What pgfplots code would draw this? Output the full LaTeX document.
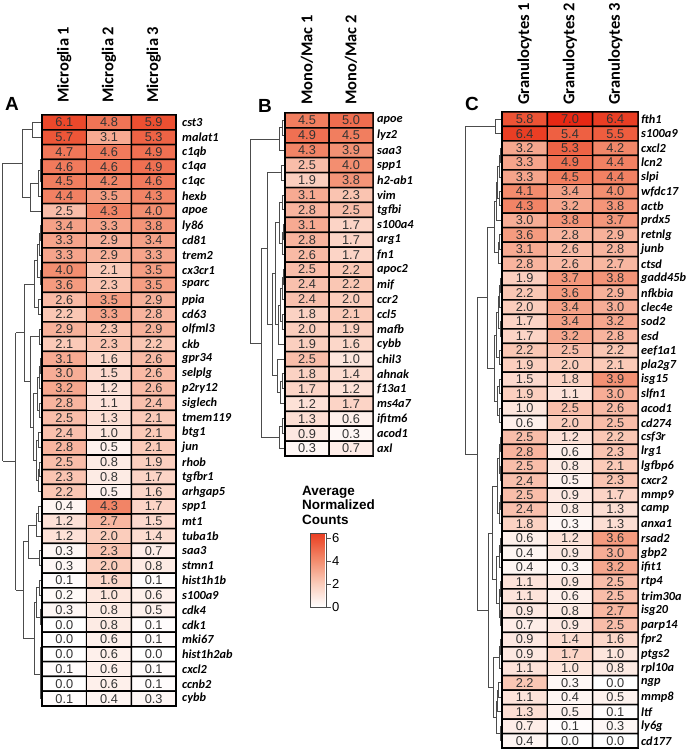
\documentclass[border=0pt]{standalone}
\usepackage{fontspec}
\setmainfont{Liberation Sans}
\newfontfamily\carlito{Carlito}
\usepackage{pgfplots}
\usepackage{pgfplotstable}
\pgfplotsset{compat=1.18}

\newcommand\numfont{\fontsize{12.8}{13}\selectfont}
\newcommand\genefont{\carlito\bfseries\itshape\fontsize{12.3}{12.3}\selectfont}
\newcommand\headfont{\carlito\bfseries\fontsize{16.5}{16.5}\selectfont}

\pgfplotsset{
  colormap={hm}{rgb255(0cm)=(255,255,255) rgb255(2cm)=(251,205,188) rgb255(4cm)=(243,142,112) rgb255(6cm)=(236,76,46) rgb255(7cm)=(232,40,20)},
  colormap={hmbar}{rgb255(0cm)=(255,255,255) rgb255(2cm)=(251,205,188) rgb255(4cm)=(243,142,112) rgb255(6cm)=(236,76,46) rgb255(6.4cm)=(234,62,36)},
  hmaxis/.style={scale only axis, anchor=south west, colormap name=hm,
    point meta min=0, point meta max=7, enlargelimits=false,
    axis line style={line width=1.8pt}, tick style={draw=none}, major tick length=0pt,
    xticklabel pos=upper, yticklabel pos=right,
    xticklabel style={rotate=90, anchor=west, inner sep=0pt, font=\headfont},
    yticklabel style={anchor=west, inner sep=0pt, font=\genefont}},
  hmcell/.style={matrix plot*, draw=black, line width=1.5pt, point meta=explicit,
    nodes near coords={\pgfmathprintnumber[fixed,fixed zerofill,precision=1,assume math mode=true]{\pgfplotspointmeta}},
    every node near coord/.append style={anchor=center, font=\numfont, text=black!80}},
  dendaxis/.style={scale only axis, anchor=south west, hide axis, x dir=reverse, y dir=reverse, xmin=0, clip=false},
  dendline/.style={draw=none, mark=none, error bars/.cd, error mark=none,
    error bar style={draw=black!70, line width=1pt}},
}

% dendrogram links: child a (row, depth), child b (row, depth), merge depth (px)
\pgfplotstableread{
ya ha yb hb H
0 0 1 0 10
2 0 3 0 1
2.5 1 4 0 2
3.25 2 5 0 4
4.125 4 6 0 12
0.5 10 5.06 12 20
7 0 8 0 2
7.5 2 9 0 3
10 0 11 0 2
8.25 3 10.5 2 5
12 0 13 0 4
9.375 5 12.5 4 8
14 0 15 0 3
16 0 17 0 2
16.5 2 18 0 3
19 0 20 0 3
17.25 3 19.5 3 5
21 0 22 0 4
23 0 24 0 3
23.5 3 25 0 4
21.5 4 24.25 4 6
18.375 5 22.875 6 9
14.5 3 20.625 9 12
10.94 8 17.56 12 18
26 0 27 0 4
26.5 4 28 0 6
29 0 30 0 3
27.25 6 29.5 3 14
31 0 32 0 3
33 0 34 0 2
31.5 3 33.5 2 6
35 0 36 0 1
35.5 1 37 0 1.5
38 0 39 0 1.5
36.25 1.5 38.5 1.5 2
32.5 6 37.375 2 8
28.375 14 34.94 8 19
14.25 18 31.66 19 26
2.78 20 22.95 26 39
}\dendA

\pgfplotstableread{
ya ha yb hb H
0 0 1 0 3
0.5 3 2 0 6
3 0 4 0 4
5 0 6 0 3
7 0 8 0 2
7.5 2 9 0 3
5.5 3 8.25 3 6
10 0 11 0 2
10.5 2 12 0 3
13 0 14 0 3
11.25 3 13.5 3 5
12.375 5 15 0 7
6.875 6 13.69 7 10
17 0 18 0 3
17.5 3 19 0 5
16 0 18.25 5 8
10.28 10 17.125 8 13
3.5 4 13.7 13 18
20 0 21 0 3
20.5 3 22 0 6
8.6 18 21.25 6 24
1.25 6 14.93 24 35
}\dendB

\pgfplotstableread{
ya ha yb hb H
0 0 1 0 7
2 0 3 0 2
2.5 2 4 0 3
5 0 6 0 3
3.25 3 5.5 3 5
4.375 5 7 0 6
8 0 9 0 3
8.5 3 10 0 4
5.69 6 9.25 4 8
11 0 12 0 2
11.5 2 13 0 3
14 0 15 0 2
12.25 3 14.5 2 4
16 0 17 0 3
13.375 4 16.5 3 6
18 0 19 0 3
20 0 21 0 3
18.5 3 20.5 3 5
14.94 6 19.5 5 8
7.47 8 17.22 8 15
22 0 23 0 2
24 0 25 0 2
22.5 2 24.5 2 3
26 0 27 0 2
26.5 2 28 0 3
23.5 3 27.25 3 5
29 0 30 0 2
29.5 2 31 0 3
32 0 33 0 2
34 0 35 0 2
32.5 2 34.5 2 3
30.25 3 33.5 3 6
25.375 5 31.875 6 10
36 0 37 0 2
36.5 2 38 0 3
39 0 40 0 4
39.5 4 41 0 5
42 0 43 0 2
40.25 5 42.5 2 6
37.25 3 41.375 6 9
28.63 10 39.31 9 14
12.35 15 33.97 14 25
0.5 7 23.16 25 37
}\dendC

\begin{document}
\begin{tikzpicture}
\path[use as bounding box] (0pt,0pt) rectangle (687pt,750pt);

% ---------------- A: Microglia ----------------
\begin{axis}[dendaxis, at={(3pt,44pt)}, width=39pt, height=591pt, xmax=39, ymin=-0.5, ymax=39.5]
\addplot[dendline, x dir=plus, x explicit] table[x=ha, y=ya, x error expr={\thisrow{H}-\thisrow{ha}}] {\dendA};
\addplot[dendline, y dir=plus, y explicit] table[x=H, y=ya, y error expr={\thisrow{yb}-\thisrow{ya}}] {\dendA};
\addplot[dendline, x dir=plus, x explicit] table[x=hb, y=yb, x error expr={\thisrow{H}-\thisrow{hb}}] {\dendA};
\end{axis}
\begin{axis}[hmaxis, at={(42pt,44pt)}, width=134pt, height=591pt,
  xmin=-0.5, xmax=2.5, ymin=-39.5, ymax=0.5,
  xticklabel shift=12pt, yticklabel shift=6pt,
  xtick={0,1,2}, xticklabels={Microglia 1,Microglia 2,Microglia 3},
  ytick={0,-1,...,-39},
  yticklabels={cst3,malat1,c1qb,c1qa,c1qc,hexb,apoe,ly86,cd81,trem2,cx3cr1,sparc,ppia,cd63,olfml3,ckb,gpr34,selplg,p2ry12,siglech,tmem119,btg1,jun,rhob,tgfbr1,arhgap5,spp1,mt1,tuba1b,saa3,stmn1,hist1h1b,s100a9,cdk4,cdk1,mki67,hist1h2ab,cxcl2,ccnb2,cybb}]
\addplot[hmcell, mesh/cols=3] table[row sep=\\, meta=val, x expr={\coordindex-3*floor((\coordindex+0.5)/3)}, y expr={-floor((\coordindex+0.5)/3)}] {
val\\
6.1\\4.8\\5.9\\
5.7\\3.1\\5.3\\
4.7\\4.6\\4.9\\
4.6\\4.6\\4.9\\
4.5\\4.2\\4.6\\
4.4\\3.5\\4.3\\
2.5\\4.3\\4.0\\
3.4\\3.3\\3.8\\
3.3\\2.9\\3.4\\
3.3\\2.9\\3.3\\
4.0\\2.1\\3.5\\
3.6\\2.3\\3.5\\
2.6\\3.5\\2.9\\
2.2\\3.3\\2.8\\
2.9\\2.3\\2.9\\
2.1\\2.3\\2.2\\
3.1\\1.6\\2.6\\
3.0\\1.5\\2.6\\
3.2\\1.2\\2.6\\
2.8\\1.1\\2.4\\
2.5\\1.3\\2.1\\
2.4\\1.0\\2.1\\
2.8\\0.5\\2.1\\
2.5\\0.8\\1.9\\
2.3\\0.8\\1.7\\
2.2\\0.5\\1.6\\
0.4\\4.3\\1.7\\
1.2\\2.7\\1.5\\
1.2\\2.0\\1.4\\
0.3\\2.3\\0.7\\
0.3\\2.0\\0.8\\
0.1\\1.6\\0.1\\
0.2\\1.0\\0.6\\
0.3\\0.8\\0.5\\
0.0\\0.8\\0.1\\
0.0\\0.6\\0.1\\
0.0\\0.6\\0.0\\
0.1\\0.6\\0.1\\
0.0\\0.6\\0.1\\
0.1\\0.4\\0.3\\
};
\end{axis}

% ---------------- B: Mono/Mac ----------------
\begin{axis}[dendaxis, at={(250pt,294pt)}, width=35pt, height=343pt, xmax=35, ymin=-0.5, ymax=22.5]
\addplot[dendline, x dir=plus, x explicit] table[x=ha, y=ya, x error expr={\thisrow{H}-\thisrow{ha}}] {\dendB};
\addplot[dendline, y dir=plus, y explicit] table[x=H, y=ya, y error expr={\thisrow{yb}-\thisrow{ya}}] {\dendB};
\addplot[dendline, x dir=plus, x explicit] table[x=hb, y=yb, x error expr={\thisrow{H}-\thisrow{hb}}] {\dendB};
\end{axis}
\begin{axis}[hmaxis, at={(285pt,294pt)}, width=88pt, height=343pt,
  xmin=-0.5, xmax=1.5, ymin=-22.5, ymax=0.5,
  xticklabel shift=8pt, yticklabel shift=4pt,
  xtick={0,1}, xticklabels={Mono/Mac 1,Mono/Mac 2},
  ytick={0,-1,...,-22},
  yticklabels={apoe,lyz2,saa3,spp1,h2-ab1,vim,tgfbi,s100a4,arg1,fn1,apoc2,mif,ccr2,ccl5,mafb,cybb,chil3,ahnak,f13a1,ms4a7,ifitm6,acod1,axl}]
\addplot[hmcell, mesh/cols=2] table[row sep=\\, meta=val, x expr={\coordindex-2*floor((\coordindex+0.5)/2)}, y expr={-floor((\coordindex+0.5)/2)}] {
val\\
4.5\\5.0\\
4.9\\4.5\\
4.3\\3.9\\
2.5\\4.0\\
1.9\\3.8\\
3.1\\2.3\\
2.8\\2.5\\
3.1\\1.7\\
2.8\\1.7\\
2.6\\1.7\\
2.5\\2.2\\
2.4\\2.2\\
2.4\\2.0\\
1.8\\2.1\\
2.0\\1.9\\
1.9\\1.6\\
2.5\\1.0\\
1.8\\1.4\\
1.7\\1.2\\
1.2\\1.7\\
1.3\\0.6\\
0.9\\0.3\\
0.3\\0.7\\
};
\end{axis}

% ---------------- colour key ----------------
\node[anchor=north west, align=left, inner sep=0pt, font=\bfseries\fontsize{13.5}{14.5}\selectfont] at (302pt,264pt) {Average\\Normalized\\Counts};
\begin{axis}[at={(302pt,143pt)}, anchor=south west, scale only axis, width=16pt, height=73.6pt,
  xmin=0, xmax=1, ymin=0, ymax=6.4, axis line style={draw=none}, xtick=\empty, ytick=\empty,
  colormap name=hmbar, point meta min=0, point meta max=6.4, colorbar,
  colorbar style={at={(parent axis.south west)}, anchor=south west, scale only axis,
    width=16pt, height=73.6pt, ytick={0,2,4,6}, ytick pos=right, yticklabel pos=right,
    tick align=outside, major tick length=4pt, tick style={draw=black!70, line width=0.8pt},
    axis line style={draw=black!70, line width=0.7pt},
    yticklabel style={font=\fontsize{13}{13}\selectfont, inner sep=1.5pt, /pgf/number format/assume math mode=true}}]
\addplot[draw=none] coordinates {(0,0)};
\end{axis}

% ---------------- C: Granulocytes ----------------
\begin{axis}[dendaxis, at={(464pt,2pt)}, width=38pt, height=636pt, xmax=38, ymin=-0.5, ymax=43.5]
\addplot[dendline, x dir=plus, x explicit] table[x=ha, y=ya, x error expr={\thisrow{H}-\thisrow{ha}}] {\dendC};
\addplot[dendline, y dir=plus, y explicit] table[x=H, y=ya, y error expr={\thisrow{yb}-\thisrow{ya}}] {\dendC};
\addplot[dendline, x dir=plus, x explicit] table[x=hb, y=yb, x error expr={\thisrow{H}-\thisrow{hb}}] {\dendC};
\end{axis}
\begin{axis}[hmaxis, at={(502pt,2pt)}, width=136pt, height=636pt,
  xmin=-0.5, xmax=2.5, ymin=-43.5, ymax=0.5,
  xticklabel shift=7pt, yticklabel shift=3pt,
  xtick={0,1,2}, xticklabels={Granulocytes 1,Granulocytes 2,Granulocytes 3},
  ytick={0,-1,...,-43},
  yticklabels={fth1,s100a9,cxcl2,lcn2,slpi,wfdc17,actb,prdx5,retnlg,junb,ctsd,gadd45b,nfkbia,clec4e,sod2,esd,eef1a1,pla2g7,isg15,slfn1,acod1,cd274,csf3r,lrg1,lgfbp6,cxcr2,mmp9,camp,anxa1,rsad2,gbp2,ifit1,rtp4,trim30a,isg20,parp14,fpr2,ptgs2,rpl10a,ngp,mmp8,ltf,ly6g,cd177}]
\addplot[hmcell, mesh/cols=3] table[row sep=\\, meta=val, x expr={\coordindex-3*floor((\coordindex+0.5)/3)}, y expr={-floor((\coordindex+0.5)/3)}] {
val\\
5.8\\7.0\\6.4\\
6.4\\5.4\\5.5\\
3.2\\5.3\\4.2\\
3.3\\4.9\\4.4\\
3.3\\4.5\\4.4\\
4.1\\3.4\\4.0\\
4.3\\3.2\\3.8\\
3.0\\3.8\\3.7\\
3.6\\2.8\\2.9\\
3.1\\2.6\\2.8\\
2.8\\2.6\\2.7\\
1.9\\3.7\\3.8\\
2.2\\3.6\\2.9\\
2.0\\3.4\\3.0\\
1.7\\3.4\\3.2\\
1.7\\3.2\\2.8\\
2.2\\2.5\\2.2\\
1.9\\2.0\\2.1\\
1.5\\1.8\\3.9\\
1.9\\1.1\\3.0\\
1.0\\2.5\\2.6\\
0.6\\2.0\\2.5\\
2.5\\1.2\\2.2\\
2.8\\0.6\\2.3\\
2.5\\0.8\\2.1\\
2.4\\0.5\\2.3\\
2.5\\0.9\\1.7\\
2.4\\0.8\\1.3\\
1.8\\0.3\\1.3\\
0.6\\1.2\\3.6\\
0.4\\0.9\\3.0\\
0.4\\0.3\\3.2\\
1.1\\0.9\\2.5\\
1.1\\0.6\\2.5\\
0.9\\0.8\\2.7\\
0.7\\0.9\\2.5\\
0.9\\1.4\\1.6\\
0.9\\1.7\\1.0\\
1.1\\1.0\\0.8\\
2.2\\0.3\\0.0\\
1.1\\0.4\\0.5\\
1.3\\0.5\\0.1\\
0.7\\0.1\\0.3\\
0.4\\0.0\\0.0\\
};
\end{axis}

% panel letters
\node[font=\bfseries\fontsize{19}{19}\selectfont] at (12pt,646pt) {A};
\node[font=\bfseries\fontsize{19}{19}\selectfont] at (265pt,644pt) {B};
\node[font=\bfseries\fontsize{19}{19}\selectfont] at (472pt,646pt) {C};
\end{tikzpicture}
\end{document}
